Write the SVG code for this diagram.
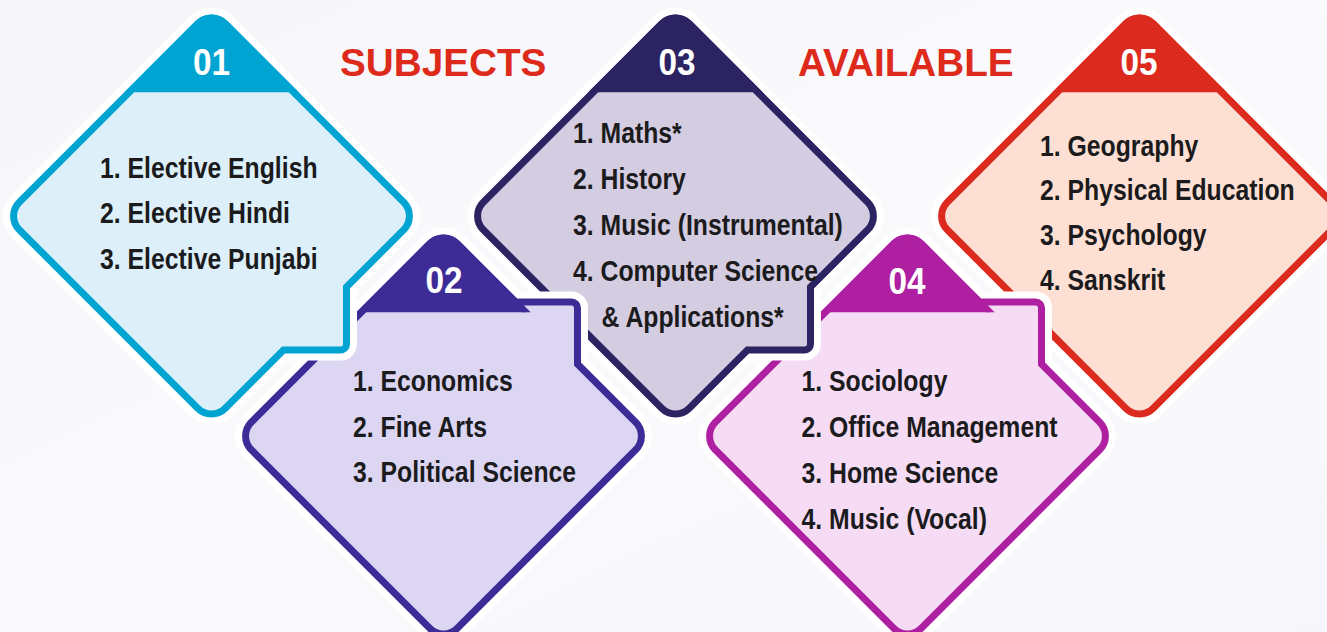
<svg xmlns="http://www.w3.org/2000/svg" xmlns:xlink="http://www.w3.org/1999/xlink" width="1327" height="632" viewBox="0 0 1327 632">
<style>
.halo{fill:#fff;stroke:#fff;stroke-width:21;stroke-linejoin:round}
.item{font-family:"Liberation Sans",Arial,sans-serif;font-weight:bold;font-size:29.5px;fill:#1b1b1d}
.num{font-family:"Liberation Sans",Arial,sans-serif;font-weight:bold;font-size:37px;fill:#ffffff;text-anchor:middle}
.title{font-family:"Liberation Sans",Arial,sans-serif;font-weight:bold;font-size:38.7px;fill:#dd2a1b}
</style>
<defs>
<linearGradient id="bg" x1="0" y1="0" x2="1" y2="1">
<stop offset="0" stop-color="#f6f5f9"/>
<stop offset="0.5" stop-color="#faf9fc"/>
<stop offset="1" stop-color="#f7f6fa"/>
</linearGradient>
<path id="dia" d="M-13.79,-192.21 A19.5 19.5 0 0 1 13.79,-192.21 L192.21,-13.79 A19.5 19.5 0 0 1 192.21,13.79 L13.79,192.21 A19.5 19.5 0 0 1 -13.79,192.21 L-192.21,13.79 A19.5 19.5 0 0 1 -192.21,-13.79 Z"/>
<path id="stepB" d="M-13.79,-192.21 A19.5 19.5 0 0 1 13.79,-192.21 L192.21,-13.79 A19.5 19.5 0 0 1 192.21,13.79 L135,71 L135,128 A6 6 0 0 1 129,134 L72,134 L13.79,192.21 A19.5 19.5 0 0 1 -13.79,192.21 L-192.21,13.79 A19.5 19.5 0 0 1 -192.21,-13.79 Z"/>
<path id="stepT" d="M-13.79,-192.21 A19.5 19.5 0 0 1 13.79,-192.21 L72,-134 L128,-134 A6 6 0 0 1 134,-128 L134,-72 L192.21,-13.79 A19.5 19.5 0 0 1 192.21,13.79 L13.79,192.21 A19.5 19.5 0 0 1 -13.79,192.21 L-192.21,13.79 A19.5 19.5 0 0 1 -192.21,-13.79 Z"/>
<clipPath id="tabclip"><rect x="-260" y="-260" width="520" height="136.3"/></clipPath>
</defs>
<rect width="1327" height="632" fill="url(#bg)"/>
<g id="connectors"/>

<g id="node-05">
<g transform="translate(1139.5 216)">
<use xlink:href="#dia" class="halo"/>
<use xlink:href="#dia" fill="#fde0d3" stroke="#dc2b1e" stroke-width="7"/>
<use xlink:href="#dia" fill="#dc2b1e" stroke="#dc2b1e" stroke-width="7" clip-path="url(#tabclip)"/>
</g>
<text class="num" transform="translate(1139 75) scale(0.9 1)">05</text>
<g transform="translate(1040 0) scale(0.84 1)">
<text class="item" y="156">1. Geography</text>
<text class="item" y="200.5">2. Physical Education</text>
<text class="item" y="245.5">3. Psychology</text>
<text class="item" y="290">4. Sanskrit</text>
</g>
</g>

<g id="node-04">
<g transform="translate(907.5 436)">
<use xlink:href="#stepT" class="halo"/>
<use xlink:href="#stepT" fill="#f5dcf4" stroke="#ae1fa1" stroke-width="7"/>
<use xlink:href="#dia" fill="#ae1fa1" stroke="#ae1fa1" stroke-width="7" clip-path="url(#tabclip)"/>
</g>
<text class="num" transform="translate(907 294) scale(0.9 1)">04</text>
<g transform="translate(801.5 0) scale(0.84 1)">
<text class="item" y="391.5">1. Sociology</text>
<text class="item" y="437">2. Office Management</text>
<text class="item" y="483">3. Home Science</text>
<text class="item" y="529">4. Music (Vocal)</text>
</g>
</g>

<g id="node-03">
<g transform="translate(675.5 216)">
<use xlink:href="#stepB" class="halo"/>
<use xlink:href="#stepB" fill="#d4cce0" stroke="#2c2462" stroke-width="7"/>
<use xlink:href="#dia" fill="#2c2462" stroke="#2c2462" stroke-width="7" clip-path="url(#tabclip)"/>
</g>
<text class="num" transform="translate(677 75) scale(0.9 1)">03</text>
<g transform="translate(573 0) scale(0.84 1)">
<text class="item" y="143">1. Maths*</text>
<text class="item" y="189.5">2. History</text>
<text class="item" y="235.5">3. Music (Instrumental)</text>
<text class="item" y="281.5">4. Computer Science</text>
<text class="item" x="34" y="327.5">&amp; Applications*</text>
</g>
</g>

<g id="node-02">
<g transform="translate(443.5 436)">
<use xlink:href="#stepT" class="halo"/>
<use xlink:href="#stepT" fill="#ddd6f3" stroke="#3e2c96" stroke-width="7"/>
<use xlink:href="#dia" fill="#3e2c96" stroke="#3e2c96" stroke-width="7" clip-path="url(#tabclip)"/>
</g>
<text class="num" transform="translate(444 293) scale(0.9 1)">02</text>
<g transform="translate(353 0) scale(0.84 1)">
<text class="item" y="391.5">1. Economics</text>
<text class="item" y="437">2. Fine Arts</text>
<text class="item" y="482.5">3. Political Science</text>
</g>
</g>

<g id="node-01">
<g transform="translate(211.5 216)">
<use xlink:href="#stepB" class="halo"/>
<use xlink:href="#stepB" fill="#ddf0fa" stroke="#00a4d3" stroke-width="7"/>
<use xlink:href="#dia" fill="#00a4d3" stroke="#00a4d3" stroke-width="7" clip-path="url(#tabclip)"/>
</g>
<text class="num" transform="translate(211.5 75) scale(0.9 1)">01</text>
<g transform="translate(100 0) scale(0.84 1)">
<text class="item" y="178">1. Elective English</text>
<text class="item" y="223.5">2. Elective Hindi</text>
<text class="item" y="269">3. Elective Punjabi</text>
</g>
</g>

<g id="titles">
<text class="title" x="340" y="76">SUBJECTS</text>
<text class="title" x="798" y="76">AVAILABLE</text>
</g>
</svg>
